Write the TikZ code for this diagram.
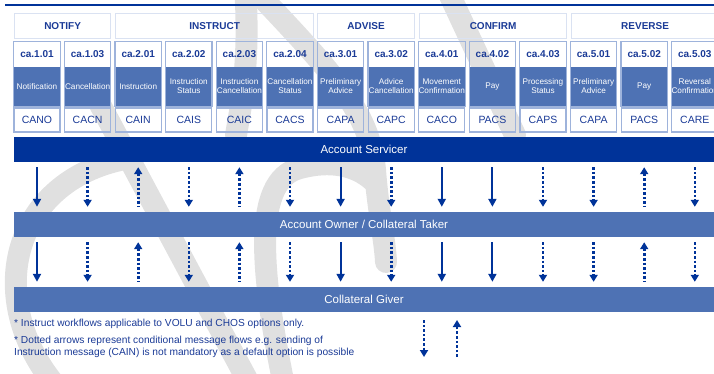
\documentclass[tikz,border=0pt]{standalone}
\usepackage{fontspec}
\setmainfont{Liberation Sans}
\usetikzlibrary{arrows.meta}
\definecolor{darkbar}{RGB}{0,51,153}
\definecolor{lightbar}{RGB}{78,114,180}
\definecolor{boxedge}{RGB}{158,179,219}
\definecolor{hdredge}{RGB}{218,226,242}
\definecolor{txtblue}{RGB}{26,58,150}
\definecolor{wmark}{RGB}{224,224,224}
\begin{document}
\begin{tikzpicture}[x=1pt,y=-1pt,
  wm/.style={draw=wmark, line width=22pt, line cap=round},
  hdr/.style={draw=hdredge, line width=1.2pt, minimum height=25pt, inner sep=0pt, anchor=north west, text=txtblue, font=\bfseries\fontsize{10}{12}\selectfont},
  codebox/.style={minimum width=46pt, minimum height=25pt, inner sep=0pt, text=txtblue, font=\bfseries\fontsize{10}{12}\selectfont},
  namebox/.style={fill=lightbar, minimum width=46pt, minimum height=39pt, inner sep=0pt, align=center, text=white, font=\fontsize{8.2}{9}\selectfont},
  frame/.style={draw=boxedge, line width=1.3pt},
  msgbox/.style={draw=boxedge, line width=1.3pt, minimum width=46pt, minimum height=24pt, inner sep=0pt, text=txtblue, font=\fontsize{10.5}{12}\selectfont},
  bar/.style={minimum width=700pt, minimum height=25pt, inner sep=0pt, text=white, font=\fontsize{11.5}{13}\selectfont},
  dn/.style={draw=darkbar, line width=2pt, -{Triangle[width=8pt,length=8pt]}, shorten <=5pt, shorten >=5pt},
  dotline/.style={draw=darkbar, line width=2.6pt, dash pattern=on 2.6pt off 2pt},
  dd/.style={dotline, -{Triangle[width=8pt,length=7pt]}, shorten <=5pt, shorten >=5pt},
  du/.style={dotline, {Triangle[width=8pt,length=7pt]}-, shorten <=5pt, shorten >=5pt},
  note/.style={anchor=base west, align=left, text=txtblue, inner sep=0pt, font=\fontsize{10.2}{11.8}\selectfont}
]
\useasboundingbox (0,0) rectangle (714,374);
\clip (0,0) rectangle (714,374);
% watermark
\draw[wm] (250,-15) .. controls (330,70) and (370,110) .. (375,170) .. controls (378,210) and (385,240) .. (386,262);
\draw[wm] (445,-15) -- (515,135);
\draw[wm] (245,-15) .. controls (250,60) and (242,100) .. (236,135);
\draw[wm] (55,385) .. controls (-15,300) and (10,185) .. (120,160);
\draw[wm] (95,95) -- (250,385);
\draw[wm] (285,390) .. controls (262,280) and (250,180) .. (300,168) .. controls (330,160) and (355,165) .. (372,180);
% top rule
\draw[darkbar, line width=1.2pt] (5,5) -- (714,5);
% headers
\node[hdr, minimum width=96pt] (hnotify) at (14,13) {NOTIFY};
\node[hdr, minimum width=198pt] (hinstruct) at (115,13) {INSTRUCT};
\node[hdr, minimum width=97pt] (hadvise) at (317,13) {ADVISE};
\node[hdr, minimum width=147pt] (hconfirm) at (419,13) {CONFIRM};
\node[hdr, minimum width=147pt] (hreverse) at (571,13) {REVERSE};
% columns
\foreach \k/\code/\name/\msg in {
  1/ca.1.01/{Notification}/CANO,
  2/ca.1.03/{Cancellation}/CACN,
  3/ca.2.01/{Instruction}/CAIN,
  4/ca.2.02/{Instruction\\Status}/CAIS,
  5/ca.2.03/{Instruction\\Cancellation}/CAIC,
  6/ca.2.04/{Cancellation\\Status}/CACS,
  7/ca.3.01/{Preliminary\\Advice}/CAPA,
  8/ca.3.02/{Advice\\Cancellation}/CAPC,
  9/ca.4.01/{Movement\\Confirmation}/CACO,
  10/ca.4.02/{Pay}/PACS,
  11/ca.4.03/{Processing\\Status}/CAPS,
  12/ca.5.01/{Preliminary\\Advice}/CAPA,
  13/ca.5.02/{Pay}/PACS,
  14/ca.5.03/{Reversal\\Confirmation}/CARE}{
  \pgfmathsetmacro{\xc}{37+50.6*(\k-1)}
  \node[codebox] (t\k) at (\xc,54.5) {\code};
  \node[namebox] (n\k) at (\xc,86.5) {\name};
  \draw[frame] (t\k.north west) rectangle (n\k.south east);
  \node[msgbox] (m\k) at (\xc,120) {\msg};
}
% bars
\node[bar, fill=darkbar] (srv) at (364,149.5) {Account Servicer};
\node[bar, fill=lightbar] (own) at (364,224.5) {Account Owner / Collateral Taker};
\node[bar, fill=lightbar] (giv) at (364,299.5) {Collateral Giver};
% flows
\foreach \k/\st in {1/dn,2/dd,3/du,4/dd,5/du,6/dd,7/dn,8/dd,9/dn,10/dn,11/dd,12/dd,13/du,14/dd}{
  \draw[\st] (srv.south -| m\k) -- (own.north -| m\k);
  \draw[\st] (own.south -| m\k) -- (giv.north -| m\k);
}
% notes
\node[note] (note1) at (14,326.7) {* Instruct workflows applicable to VOLU and CHOS options only.};
\node[note] (note2) at (14,355.5) {* Dotted arrows represent conditional message flows e.g. sending of\\Instruction message (CAIN) is not mandatory as a default option is possible};
% legend arrows
\coordinate (lga) at (424,320);
\coordinate (lgb) at (424,357);
\coordinate (lgc) at (457,357);
\coordinate (lgd) at (457,320);
\draw[dotline, -{Triangle[width=8pt,length=7pt]}] (lga) -- (lgb);
\draw[dotline, -{Triangle[width=8pt,length=7pt]}] (lgc) -- (lgd);
\end{tikzpicture}
\end{document}
